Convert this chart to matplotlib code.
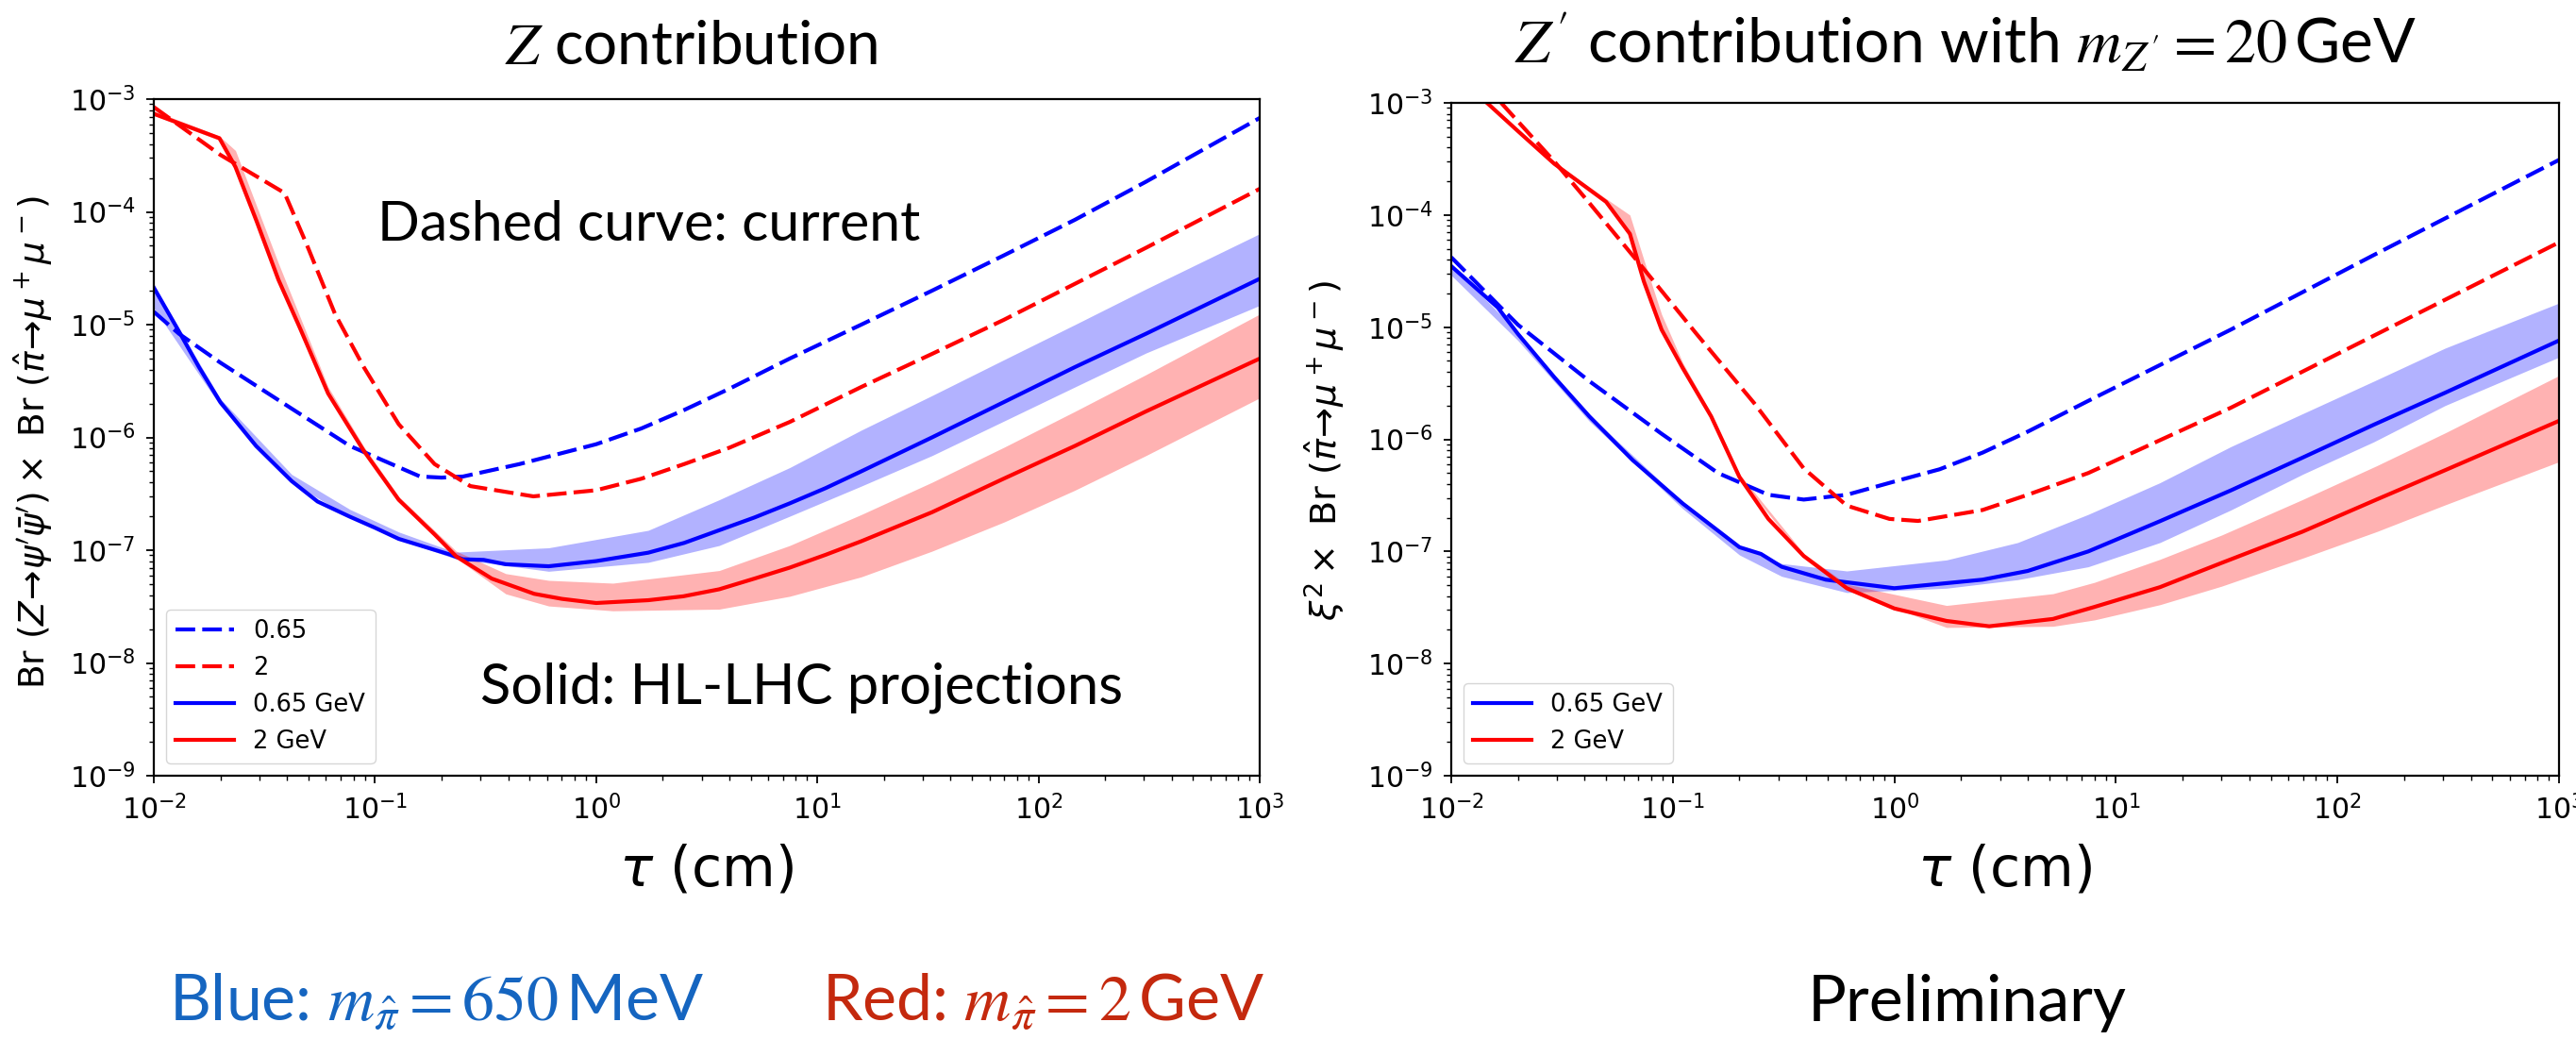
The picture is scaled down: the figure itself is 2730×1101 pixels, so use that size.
import matplotlib
matplotlib.use("Agg")
import matplotlib.pyplot as plt

# ---------------- data: left panel (Z contribution) ----------------
L_blue_dash_tau = [0.010, 0.013, 0.020, 0.042, 0.077, 0.16, 0.20, 0.25, 0.45, 1.0, 1.6, 2.5, 4.0, 7.5, 15.8,
                   33, 69.5, 146, 306, 1000]
L_blue_dash_val = [1.30e-5, 8.3e-6, 4.6e-6, 1.8e-6, 8.4e-7, 4.5e-7, 4.4e-7, 4.5e-7, 5.8e-7, 8.7e-7, 1.2e-6,
                   1.75e-6, 2.7e-6, 5.0e-6, 1.0e-5, 2.0e-5, 4.1e-5, 8.5e-5, 1.85e-4, 6.8e-4]

L_red_dash_tau = [0.010, 0.020, 0.039, 0.049, 0.066, 0.089, 0.128, 0.186, 0.27, 0.52, 1.0, 1.6, 2.5, 4.0,
                  7.5, 15.8, 33, 69.5, 146, 306, 1000]
L_red_dash_val = [8.5e-4, 3.2e-4, 1.47e-4, 5.2e-5, 1.24e-5, 4.2e-6, 1.31e-6, 5.8e-7, 3.7e-7, 3.0e-7,
                  3.4e-7, 4.3e-7, 5.8e-7, 8.1e-7, 1.37e-6, 2.8e-6, 5.5e-6, 1.1e-5, 2.3e-5, 4.8e-5, 1.6e-4]

L_blue_sol_tau = [0.010, 0.013, 0.016, 0.020, 0.029, 0.042, 0.055, 0.077, 0.10, 0.128, 0.216, 0.25, 0.31,
                  0.39, 0.61, 1.0, 1.72, 2.5, 5.2, 7.5, 10.9, 15.8, 33, 69.5, 146, 306, 1000]
L_blue_sol_val = [2.13e-5, 8.7e-6, 4.2e-6, 2.05e-6, 8.4e-7, 4.1e-7, 2.7e-7, 1.98e-7, 1.58e-7, 1.26e-7,
                  9.2e-8, 8.3e-8, 8.2e-8, 7.5e-8, 7.2e-8, 8.0e-8, 9.5e-8, 1.16e-7, 1.95e-7, 2.6e-7, 3.55e-7,
                  5.0e-7, 1.0e-6, 2.05e-6, 4.2e-6, 8.3e-6, 2.55e-5]

L_red_sol_tau = [0.010, 0.0198, 0.0234, 0.0292, 0.0366, 0.0456, 0.0614, 0.089, 0.128, 0.186, 0.233, 0.337,
                 0.525, 0.7, 1.0, 1.72, 2.48, 3.6, 5.2, 7.5, 10.9, 15.8, 33, 69.5, 146, 306, 1000]
L_red_sol_val = [7.4e-4, 4.5e-4, 2.5e-4, 8.2e-5, 2.5e-5, 9.5e-6, 2.45e-6, 7.6e-7, 2.8e-7, 1.38e-7, 8.8e-8,
                 5.6e-8, 4.1e-8, 3.7e-8, 3.4e-8, 3.6e-8, 3.9e-8, 4.5e-8, 5.6e-8, 7.0e-8, 9.1e-8, 1.2e-7,
                 2.17e-7, 4.3e-7, 8.4e-7, 1.7e-6, 5.0e-6]

L_blue_band_tau = [0.010, 0.020, 0.042, 0.077, 0.128, 0.23, 0.61, 1.72, 3.6, 7.5, 15.8, 33, 70, 146, 306, 1000]
L_blue_band_lo = [1.4e-5, 1.9e-6, 4.0e-7, 1.95e-7, 1.25e-7, 8.4e-8, 6.5e-8, 7.8e-8, 1.1e-7, 2.0e-7, 3.7e-7,
                  6.9e-7, 1.4e-6, 2.8e-6, 5.6e-6, 1.48e-5]
L_blue_band_hi = [2.2e-5, 2.2e-6, 4.7e-7, 2.3e-7, 1.45e-7, 9.6e-8, 1.05e-7, 1.5e-7, 2.8e-7, 5.4e-7, 1.16e-6,
                  2.35e-6, 4.9e-6, 1.0e-5, 2.07e-5, 6.4e-5]

L_red_band_tau = [0.010, 0.0198, 0.0234, 0.0292, 0.0366, 0.0456, 0.0614, 0.089, 0.128, 0.233, 0.39, 0.61,
                  1.19, 3.6, 7.5, 15.8, 33, 70, 146, 306, 1000]
L_red_band_lo = [7.2e-4, 4.3e-4, 2.4e-4, 7.9e-5, 2.5e-5, 9.3e-6, 2.4e-6, 7.4e-7, 2.75e-7, 8.5e-8, 4.1e-8,
                 3.2e-8, 2.9e-8, 3.0e-8, 3.9e-8, 5.8e-8, 9.8e-8, 1.78e-7, 3.4e-7, 6.9e-7, 2.24e-6]
L_red_band_hi = [7.9e-4, 4.7e-4, 3.5e-4, 1.12e-4, 3.5e-5, 1.2e-5, 2.8e-6, 8.3e-7, 3.0e-7, 9.8e-8, 6.2e-8,
                 5.4e-8, 5.1e-8, 6.6e-8, 1.1e-7, 2.07e-7, 4.0e-7, 8.2e-7, 1.7e-6, 3.6e-6, 1.24e-5]

# ---------------- data: right panel (Z' contribution) ----------------
R_blue_dash_tau = [0.010, 0.020, 0.042, 0.089, 0.16, 0.27, 0.39, 0.61, 1.0, 1.6, 2.5, 4.0, 7.5, 33, 146, 1000]
R_blue_dash_val = [4.2e-5, 1.05e-5, 3.3e-6, 1.12e-6, 5.0e-7, 3.2e-7, 2.9e-7, 3.2e-7, 4.2e-7, 5.4e-7, 7.6e-7,
                   1.17e-6, 2.2e-6, 9.5e-6, 4.4e-5, 3.1e-4]

R_red_dash_tau = [0.0168, 0.0292, 0.042, 0.071, 0.128, 0.233, 0.39, 0.61, 0.95, 1.28, 2.5, 4.0, 7.5, 33,
                  146, 1000]
R_red_dash_val = [1.0e-3, 3.0e-4, 1.28e-4, 3.65e-5, 8.7e-6, 2.1e-6, 5.5e-7, 2.56e-7, 1.95e-7, 1.87e-7,
                  2.34e-7, 3.2e-7, 5.0e-7, 1.91e-6, 8.4e-6, 5.7e-5]

R_blue_sol_tau = [0.010, 0.0162, 0.020, 0.0292, 0.042, 0.066, 0.111, 0.20, 0.25, 0.31, 0.49, 1.0, 2.5, 4.0,
                  7.5, 15.8, 33, 70, 146, 306, 1000]
R_blue_sol_val = [3.5e-5, 1.5e-5, 8.7e-6, 3.57e-6, 1.6e-6, 6.5e-7, 2.67e-7, 1.09e-7, 9.5e-8, 7.3e-8, 5.6e-8,
                  4.7e-8, 5.6e-8, 6.7e-8, 1.0e-7, 1.86e-7, 3.5e-7, 6.9e-7, 1.35e-6, 2.6e-6, 7.6e-6]

R_red_sol_tau = [0.0145, 0.020, 0.0292, 0.050, 0.064, 0.074, 0.089, 0.111, 0.149, 0.20, 0.27, 0.39, 0.61,
                 1.0, 1.72, 2.68, 5.2, 8.0, 15.8, 30, 69.5, 150, 306, 1000]
R_red_sol_val = [1.0e-3, 5.6e-4, 2.86e-4, 1.31e-4, 6.8e-5, 2.56e-5, 9.5e-6, 4.3e-6, 1.6e-6, 4.6e-7, 1.95e-7,
                 9.1e-8, 4.7e-8, 3.1e-8, 2.4e-8, 2.15e-8, 2.5e-8, 3.2e-8, 4.8e-8, 7.9e-8, 1.5e-7, 2.9e-7,
                 5.3e-7, 1.46e-6]

R_blue_band_tau = [0.010, 0.020, 0.042, 0.111, 0.20, 0.31, 0.61, 1.72, 3.6, 7.5, 15.8, 33, 70, 146, 306, 1000]
R_blue_band_lo = [2.9e-5, 7.6e-6, 1.45e-6, 2.4e-7, 9.3e-8, 6.0e-8, 4.3e-8, 4.7e-8, 5.6e-8, 7.3e-8, 1.2e-7,
                  2.34e-7, 4.9e-7, 9.5e-7, 2.0e-6, 5.4e-6]
R_blue_band_hi = [3.6e-5, 9.0e-6, 1.65e-6, 2.75e-7, 1.12e-7, 7.8e-8, 6.7e-8, 8.4e-8, 1.2e-7, 2.14e-7, 4.1e-7,
                  8.6e-7, 1.7e-6, 3.3e-6, 6.5e-6, 1.64e-5]

R_red_band_tau = [0.0145, 0.020, 0.0292, 0.050, 0.064, 0.074, 0.089, 0.111, 0.149, 0.20, 0.39, 0.61, 1.72,
                  5.2, 8.0, 15.8, 30, 69.5, 150, 306, 1000]
R_red_band_lo = [1.0e-3, 5.5e-4, 2.8e-4, 1.28e-4, 6.6e-5, 2.5e-5, 9.3e-6, 4.2e-6, 1.55e-6, 4.5e-7, 8.9e-8,
                 4.5e-8, 2.1e-8, 2.15e-8, 2.45e-8, 3.35e-8, 4.9e-8, 8.7e-8, 1.5e-7, 2.6e-7, 6.3e-7]
R_red_band_hi = [1.0e-3, 5.8e-4, 2.95e-4, 1.4e-4, 1.0e-4, 4.0e-5, 1.3e-5, 4.8e-6, 1.7e-6, 4.9e-7, 9.6e-8,
                 5.1e-8, 3.3e-8, 4.2e-8, 5.3e-8, 8.5e-8, 1.4e-7, 2.9e-7, 5.8e-7, 1.14e-6, 3.7e-6]

# ---------------- labels ----------------
legend_left = ["0.65", "2", "0.65 GeV", "2 GeV"]
legend_right = ["0.65 GeV", "2 GeV"]
xlabel = r"$\tau$ (cm)"
ylabel_left = r"Br $(Z\!\rightarrow\!\psi'\bar{\psi}')\times$ Br $(\hat{\pi}\!\rightarrow\!\mu^+\mu^-)$"
ylabel_right = r"$\xi^2\times$ Br $(\hat{\pi}\!\rightarrow\!\mu^+\mu^-)$"
title_left = r"$Z$ contribution"
title_right = r"$Z'$ contribution with $m_{Z'}=20\,$GeV"

SLIDE_FONT = "Lato"
BLUE_TXT = "#1565C0"
RED_TXT = "#C4290E"

W, H = 2730, 1101
fig = plt.figure(figsize=(W / 100, H / 100), dpi=100)

ax1 = fig.add_axes([163 / W, 1 - 822 / H, 1172 / W, 717 / H])
ax2 = fig.add_axes([1538 / W, 1 - 822 / H, 1174 / W, 713 / H])

LW = 3.0
DASH = (0, (5, 1.8))


def draw(ax, bd, rd, bs, rs, bb, rb, with_dashed_legend):
    ax.fill_between(bb[0], bb[1], bb[2], color="blue", alpha=0.3, linewidth=0)
    ax.fill_between(rb[0], rb[1], rb[2], color="red", alpha=0.3, linewidth=0)
    h1, = ax.plot(bd[0], bd[1], color="blue", lw=LW, linestyle=DASH)
    h2, = ax.plot(rd[0], rd[1], color="red", lw=LW, linestyle=DASH)
    h3, = ax.plot(bs[0], bs[1], color="blue", lw=LW)
    h4, = ax.plot(rs[0], rs[1], color="red", lw=LW)
    ax.set_xscale("log")
    ax.set_yscale("log")
    ax.set_xlim(1e-2, 1e3)
    ax.set_ylim(1e-9, 1e-3)
    ax.tick_params(which="major", labelsize=21.5, length=6, width=1.3, pad=8)
    ax.tick_params(which="minor", length=3.5, width=1.0)
    for s in ax.spines.values():
        s.set_linewidth(1.6)
    ax.set_xlabel(xlabel, fontsize=42, labelpad=14)
    if with_dashed_legend:
        ax.legend([h1, h2, h3, h4], legend_left, loc="lower left", fontsize=18.5, handlelength=2.4)
    else:
        ax.legend([h3, h4], legend_right, loc="lower left", fontsize=18.5, handlelength=2.4)


draw(ax1, (L_blue_dash_tau, L_blue_dash_val), (L_red_dash_tau, L_red_dash_val),
     (L_blue_sol_tau, L_blue_sol_val), (L_red_sol_tau, L_red_sol_val),
     (L_blue_band_tau, L_blue_band_lo, L_blue_band_hi), (L_red_band_tau, L_red_band_lo, L_red_band_hi), True)
draw(ax2, (R_blue_dash_tau, R_blue_dash_val), (R_red_dash_tau, R_red_dash_val),
     (R_blue_sol_tau, R_blue_sol_val), (R_red_sol_tau, R_red_sol_val),
     (R_blue_band_tau, R_blue_band_lo, R_blue_band_hi), (R_red_band_tau, R_red_band_lo, R_red_band_hi), False)

ax1.set_ylabel(ylabel_left, fontsize=27)
ax1.yaxis.set_label_coords(-0.090, 0.493)
ax2.set_ylabel(ylabel_right, fontsize=27.5)
ax2.yaxis.set_label_coords(-0.094, 0.483)

# titles (slide text)
fig.text(733 / W, 1 - 67 / H, title_left, fontsize=46, family=SLIDE_FONT,
         math_fontfamily="stix", ha="center", va="baseline")
fig.text(2083 / W, 1 - 67 / H, title_right, fontsize=47.5, family=SLIDE_FONT,
         math_fontfamily="stix", ha="center", va="baseline")

# annotations inside the left panel
fig.text(400 / W, 1 - 255 / H, "Dashed curve: current", fontsize=42.5, family=SLIDE_FONT,
         ha="left", va="baseline")
fig.text(509 / W, 1 - 746 / H, "Solid: HL-LHC projections", fontsize=43, family=SLIDE_FONT,
         ha="left", va="baseline")

# bottom slide text
fig.text(179 / W, 1 - 1082 / H, r"Blue: $m_{\hat{\pi}}=650\,$MeV", fontsize=49, family=SLIDE_FONT,
         math_fontfamily="stix", color=BLUE_TXT, ha="left", va="baseline")
fig.text(871 / W, 1 - 1082 / H, r"Red: $m_{\hat{\pi}}=2\,$GeV", fontsize=49, family=SLIDE_FONT,
         math_fontfamily="stix", color=RED_TXT, ha="left", va="baseline")
fig.text(1916 / W, 1 - 1082 / H, "Preliminary", fontsize=49, family=SLIDE_FONT,
         color="black", ha="left", va="baseline")

fig.savefig("out.png", dpi=100)
